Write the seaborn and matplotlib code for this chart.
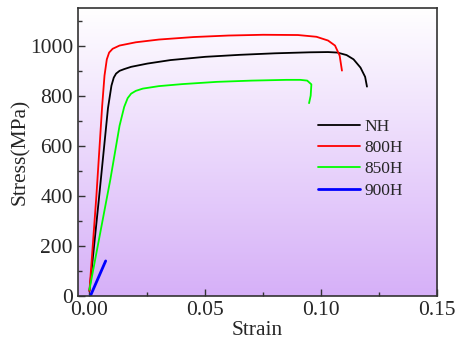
import numpy as np
import pandas as pd
import matplotlib
matplotlib.use("Agg")
import matplotlib.pyplot as plt
from matplotlib.colors import LinearSegmentedColormap
from matplotlib.ticker import MultipleLocator
import seaborn as sns

# 读取的曲线数据 (应变, 应力MPa)
nh_strain = [0.000, 0.004, 0.008, 0.0095, 0.0105, 0.0115, 0.013, 0.015, 0.018, 0.025,
             0.035, 0.050, 0.065, 0.080, 0.095, 0.103, 0.107, 0.111, 0.114, 0.117,
             0.119, 0.1198]
nh_stress = [20, 380, 750, 840, 872, 888, 899, 906, 915, 928,
             942, 955, 963, 969, 973, 974, 972, 962, 945, 912,
             875, 836]

h800_strain = [0.000, 0.003, 0.0055, 0.0065, 0.0075, 0.0085, 0.010, 0.013, 0.020, 0.030,
               0.045, 0.060, 0.075, 0.090, 0.098, 0.103, 0.106, 0.108, 0.109]
h800_stress = [20, 400, 760, 880, 945, 972, 987, 1000, 1013, 1024,
               1034, 1040, 1043, 1042, 1035, 1020, 1000, 960, 900]

h850_strain = [0.000, 0.009, 0.013, 0.015, 0.0165, 0.018, 0.020, 0.023, 0.030, 0.040,
               0.055, 0.070, 0.085, 0.091, 0.094, 0.0958, 0.0955, 0.0948]
h850_stress = [25, 464, 680, 755, 790, 808, 819, 828, 838, 846,
               855, 860, 863, 863, 860, 845, 800, 770]

h900_strain = [0.0004, 0.007]
h900_stress = [0, 140]

labels = ["NH", "800H", "850H", "900H"]
colors = ["#000000", "#ff0000", "#00ff00", "#0000ff"]

df = pd.concat([
    pd.DataFrame({"strain": s, "stress": t, "sample": lab})
    for s, t, lab in zip([nh_strain, h800_strain, h850_strain, h900_strain],
                         [nh_stress, h800_stress, h850_stress, h900_stress],
                         labels)
], ignore_index=True)

sns.set_style("ticks")
plt.rcParams["font.family"] = ["Liberation Serif", "DejaVu Serif"]

fig = plt.figure(figsize=(4.58, 3.47), dpi=100)
ax = fig.add_axes([0.170, 0.147, 0.784, 0.830])

# 渐变背景
cmap = LinearSegmentedColormap.from_list("bg", ["#ffffff", "#d6b0f8"])
grad = np.linspace(0, 1, 256).reshape(-1, 1)
ax.imshow(grad, aspect="auto", cmap=cmap, extent=[0, 1, 0, 1],
          transform=ax.transAxes, zorder=0)

sns.lineplot(data=df, x="strain", y="stress", hue="sample", hue_order=labels,
             palette=colors, sort=False, estimator=None, ax=ax, linewidth=1.3, zorder=2)
ax.lines[3].set_linewidth(2.0)

ax.set_xlim(-0.005, 0.15)
ax.set_ylim(0, 1150)
ax.xaxis.set_major_locator(MultipleLocator(0.05))
ax.xaxis.set_minor_locator(MultipleLocator(0.025))
ax.yaxis.set_major_locator(MultipleLocator(200))
ax.yaxis.set_minor_locator(MultipleLocator(100))
ax.set_xticks([0.0, 0.05, 0.10, 0.15])
ax.set_xticklabels(["0.00", "0.05", "0.10", "0.15"])
ax.tick_params(which="both", direction="in", labelsize=15.5, color="#333333", width=1.0)
ax.tick_params(which="major", length=5)
ax.tick_params(which="minor", length=3)
for sp in ax.spines.values():
    sp.set_color("#333333")
    sp.set_linewidth(1.2)
    sp.set_visible(True)

ax.set_xlabel("Strain", fontsize=15.5, labelpad=1)
ax.set_ylabel("Stress(MPa)", fontsize=15.5, labelpad=0)

leg = ax.legend(frameon=False, fontsize=12.5, loc="upper left",
                bbox_to_anchor=(0.65, 0.64), handlelength=2.4, handletextpad=0.25,
                labelspacing=0.3, borderaxespad=0)
for h in leg.get_lines():
    h.set_linewidth(1.3)
leg.get_lines()[3].set_linewidth(2.0)

fig.savefig("out.png", dpi=100)
